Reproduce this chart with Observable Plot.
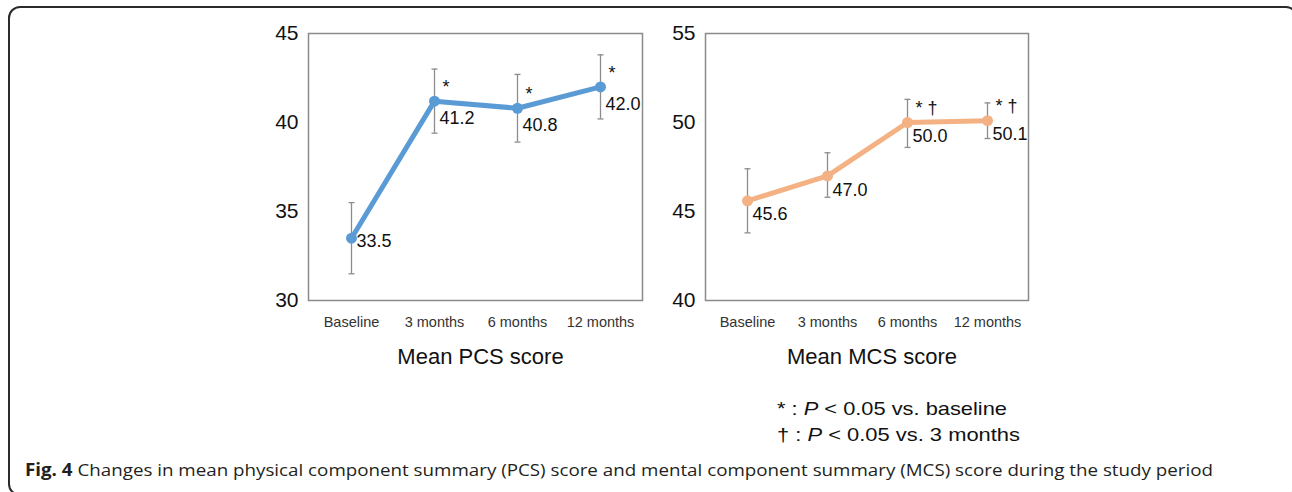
<!DOCTYPE html>
<html>
<head>
<meta charset="utf-8">
<script src="https://cdn.jsdelivr.net/npm/d3@7"></script>
<script src="https://cdn.jsdelivr.net/npm/@observablehq/plot@0.6"></script>
<style>
  html, body { margin: 0; padding: 0; background: #fff; width: 1292px; height: 492px; overflow: hidden; }
  #frame { position: absolute; left: 8px; top: 6px; width: 1290px; height: 490px; border: 2px solid #2b2b2b; border-radius: 12px; box-sizing: border-box; }
  .chart { position: absolute; }
  #legend { position: absolute; left: 777px; top: 396px; font-family: "Liberation Sans", Arial, sans-serif; font-size: 18.5px; line-height: 26px; color: #111; }
  #legend div { white-space: nowrap; transform-origin: left center; width: max-content; }
  #caption { position: absolute; left: 25px; top: 458px; font-family: "Open Sans", sans-serif; font-size: 17px; color: #231f20; white-space: nowrap; transform-origin: left center; }
</style>
</head>
<body>
<div id="frame"></div>
<div id="pcs" class="chart" style="left:260px; top:10px;"></div>
<div id="mcs" class="chart" style="left:657px; top:10px;"></div>
<div id="legend">
  <div id="leg1">* : <i>P</i> &lt; 0.05 vs. baseline</div>
  <div id="leg2">† : <i>P</i> &lt; 0.05 vs. 3 months</div>
</div>
<div id="caption"><b>Fig. 4</b> Changes in mean physical component summary (PCS) score and mental component summary (MCS) score during the study period</div>
<script>
// ---- data ----
const timepoints = ["Baseline", "3 months", "6 months", "12 months"];

const pcsMean = [33.5, 41.2, 40.8, 42.0];
const pcsLow  = [31.5, 39.4, 38.9, 40.2];
const pcsHigh = [35.5, 43.0, 42.7, 43.8];
const pcsSig  = ["", "*", "*", "*"];
const pcsTicks = [30, 35, 40, 45];

const mcsMean = [45.6, 47.0, 50.0, 50.1];
const mcsLow  = [43.8, 45.8, 48.6, 49.1];
const mcsHigh = [47.4, 48.3, 51.3, 51.1];
const mcsSig  = ["", "", "* †", "* †"];
const mcsTicks = [40, 45, 50, 55];

const pcsTitle = "Mean PCS score";
const mcsTitle = "Mean MCS score";

// ---- chart builder ----
const capSymbol = {
  draw(ctx, size) {
    const w = Math.sqrt(size / Math.PI);
    ctx.moveTo(-w, 0);
    ctx.lineTo(w, 0);
  }
};

function buildChart(means, lows, highs, sigs, ticks, title, color, frameWidth, firstDy, labelDy) {
  const rows = timepoints.map((t, i) => ({t, mean: means[i], lo: lows[i], hi: highs[i], sig: sigs[i], i}));
  const marginLeft = 48, marginRight = 34, marginTop = 23, marginBottom = 80;
  return Plot.plot({
    width: marginLeft + frameWidth + marginRight,
    height: marginTop + 267 + marginBottom,
    marginLeft, marginRight, marginTop, marginBottom,
    style: {fontFamily: "'Liberation Sans', Arial, sans-serif", color: "#111", background: "transparent"},
    x: {type: "point", domain: timepoints, padding: 0.5},
    y: {domain: [ticks[0], ticks[ticks.length - 1]]},
    marks: [
      Plot.frame({stroke: "#8a8a8a", strokeWidth: 1.5}),
      Plot.axisY({ticks, tickSize: 0, tickPadding: 10, fontSize: 21, label: null, fill: "#111"}),
      Plot.axisX({tickSize: 0, tickPadding: 16, fontSize: 14.5, label: null, fill: "#333"}),
      Plot.ruleX(rows, {x: "t", y1: "lo", y2: "hi", stroke: "#8c8c8c", strokeWidth: 1.3}),
      Plot.dot(rows, {x: "t", y: "lo", symbol: capSymbol, r: 3, stroke: "#8c8c8c", strokeWidth: 1.3, fill: "none"}),
      Plot.dot(rows, {x: "t", y: "hi", symbol: capSymbol, r: 3, stroke: "#8c8c8c", strokeWidth: 1.3, fill: "none"}),
      Plot.line(rows, {x: "t", y: "mean", stroke: color, strokeWidth: 5, strokeLinejoin: "round"}),
      Plot.dot(rows, {x: "t", y: "mean", r: 5.5, fill: color, stroke: "none"}),
      Plot.text(rows.filter(d => d.i === 0), {x: "t", y: "mean", text: d => d.mean.toFixed(1), textAnchor: "start", dx: 5, dy: firstDy, fontSize: 18, fill: "#111"}),
      Plot.text(rows.filter(d => d.i > 0), {x: "t", y: "mean", text: d => d.mean.toFixed(1), textAnchor: "start", dx: 5, dy: labelDy, fontSize: 18, fill: "#111"}),
      Plot.text(rows.filter(d => d.sig), {x: "t", y: "mean", text: "sig", textAnchor: "start", dx: 8, dy: -14, fontSize: 18, fill: "#111"}),
      Plot.text([title], {frameAnchor: "bottom", dx: 5, dy: 63, fontSize: 22, fill: "#111"})
    ]
  });
}

document.getElementById("pcs").appendChild(
  buildChart(pcsMean, pcsLow, pcsHigh, pcsSig, pcsTicks, pcsTitle, "#5b9bd5", 334, 3, 17));
document.getElementById("mcs").appendChild(
  buildChart(mcsMean, mcsLow, mcsHigh, mcsSig, mcsTicks, mcsTitle, "#f4b183", 323, 13, 14));

// fit text widths to the reference line lengths
function fitWidth(id, target) {
  const el = document.getElementById(id);
  const w = el.getBoundingClientRect().width;
  el.style.transform = `scaleX(${target / w})`;
}
fitWidth("caption", 1188);
fitWidth("leg1", 230);
fitWidth("leg2", 243);
</script>
</body>
</html>
